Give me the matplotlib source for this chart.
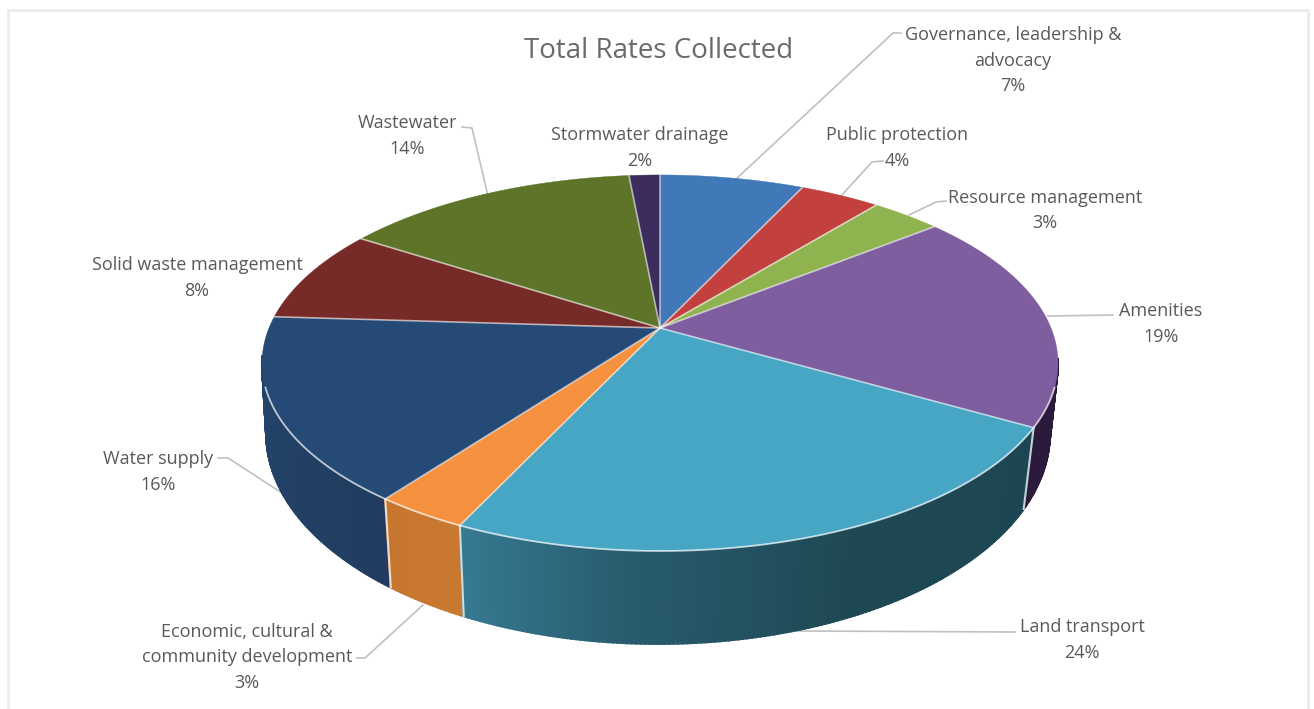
import numpy as np
import matplotlib
matplotlib.use("Agg")
import matplotlib.pyplot as plt
from matplotlib.colors import to_rgb

# data
categories = ["Governance, leadership &\nadvocacy", "Public protection", "Resource management",
              "Amenities", "Land transport", "Economic, cultural &\ncommunity development",
              "Water supply", "Solid waste management", "Wastewater", "Stormwater drainage"]
rates = [7.0, 3.9, 3.4, 19.0, 23.7, 3.2, 15.8, 8.1, 14.4, 1.5]

top_colors = ["#4179b8", "#c2403d", "#8fb34e", "#7f5ea0", "#46a6c4",
              "#f6923f", "#264a76", "#772b28", "#5d7429", "#3c2d5e"]
# wall colour stops: (fraction along the slice, colour)
wall_colors = [[(0, "#2b5480"), (1, "#2b5480")], [(0, "#80302d"), (1, "#80302d")],
               [(0, "#627a33"), (1, "#627a33")], [(0, "#2c1a3c"), (1, "#2c1a3c")],
               [(0, "#1c4651"), (0.42, "#1e4853"), (0.75, "#285c6e"), (1, "#367a91")],
               [(0, "#c8782f"), (1, "#c6762e")], [(0, "#213c60"), (1, "#25476f")],
               [(0, "#501d1b"), (1, "#501d1b")], [(0, "#3f4f1c"), (1, "#3f4f1c")],
               [(0, "#291f40"), (1, "#291f40")]]

# label position (centre x, first line y) and leader line
label_pos = [(1013, 35), (897, 135), (1045, 198), (1161, 311), (1082, 627),
             (247, 632), (158, 459), (197, 265), (407, 123), (640, 135)]
leaders = [[(735, 180), (893, 33), (901, 33)], [(841, 196), (872, 162), (883, 161)],
           [(909, 215), (936, 202), (946, 201)], [(1048, 316), (1113, 315)],
           [(798, 631), (1015, 632)], [(423, 605), (365, 658), (357, 658)],
           [(282, 493), (228, 458), (218, 458)], [], [(488, 196), (472, 128), (462, 127)], []]


def project(theta, cx, cy, a, b, k):
    # tilted circle seen in perspective, theta clockwise from the top
    u, v = np.sin(theta), np.cos(theta)
    d = 1 + k * v
    return cx + a * u / d, cy - b * v / d


def rim_top(theta):
    return project(theta, 660, 328, 391, 181.5, 0.186)


def rim_low(theta):
    return project(theta, 658, 398, 386, 204, 0.17)


fig = plt.figure(figsize=(13.14, 7.09), dpi=100)
ax = fig.add_axes([0, 0, 1, 1])
ax.set_xlim(0, 1314)
ax.set_ylim(709, 0)
ax.axis("off")

# chart frame, open at the bottom
ax.plot([8, 8, 1308, 1308], [709, 10, 10, 709], color="#ececec", lw=2)

edges = np.r_[0, np.cumsum(rates)] / sum(rates) * 2 * np.pi

# side wall, far strips first, the back of the pie is never seen
strips = []
for i in range(len(rates)):
    stops = wall_colors[i]
    pos = [s[0] for s in stops]
    rgb = np.array([to_rgb(s[1]) for s in stops])
    n = max(2, int((edges[i + 1] - edges[i]) / 0.01))
    t = np.linspace(edges[i], edges[i + 1], n + 1)
    for j in range(n):
        f = (j + 0.5) / n
        col = [np.interp(f, pos, rgb[:, c]) for c in range(3)]
        if np.cos(t[j]) < -0.15:
            strips.append((np.cos(t[j]), t[j], t[j + 1], col))
for _, t0, t1, col in sorted(strips, key=lambda s: -s[0]):
    tt = np.array([t0, t1])
    xa, ya = rim_top(tt)
    xb, yb = rim_low(tt)
    ax.fill(np.r_[xa, xb[::-1]], np.r_[ya, yb[::-1]], color=col, lw=1.6, zorder=2)

# wall seams on the front
for t in edges:
    if 1.9 < t < 4.4:
        xa, ya = rim_top(t)
        xb, yb = rim_low(t)
        ax.plot([xa, xb], [ya, yb], color="#ffffff", alpha=0.75, lw=1.5, zorder=3)

# top face
for i in range(len(rates)):
    t = np.linspace(edges[i], edges[i + 1], 120)
    x, y = rim_top(t)
    ax.fill(np.r_[660, x], np.r_[328, y], color=top_colors[i], lw=0.3, zorder=4)

for t in edges[:-1]:
    x, y = rim_top(t)
    ax.plot([660, x], [328, y], color="#ffffff", alpha=0.6, lw=1.2, zorder=5)

# light edge where the top meets the wall
t = np.linspace(np.radians(108), np.radians(252), 300)
x, y = rim_top(t)
ax.plot(x, y, color="#ffffff", alpha=0.7, lw=1.3, zorder=5)

# leader lines
for pts in leaders:
    if pts:
        ax.plot([p[0] for p in pts], [p[1] for p in pts], color="#c0c0c0", lw=1.2, zorder=1)

# text
ax.text(659, 51, "Total Rates Collected", fontsize=20, color="#6a6a6a", family="Open Sans",
        ha="center", va="center")
for name, val, (lx, ly) in zip(categories, rates, label_pos):
    lines = name.split("\n") + [f"{round(val)}%"]
    for n, line in enumerate(lines):
        ax.text(lx, ly + n * 25.5, line, fontsize=13, color="#595959", family="Open Sans",
                ha="center", va="center")

fig.savefig("out.png", dpi=100)
